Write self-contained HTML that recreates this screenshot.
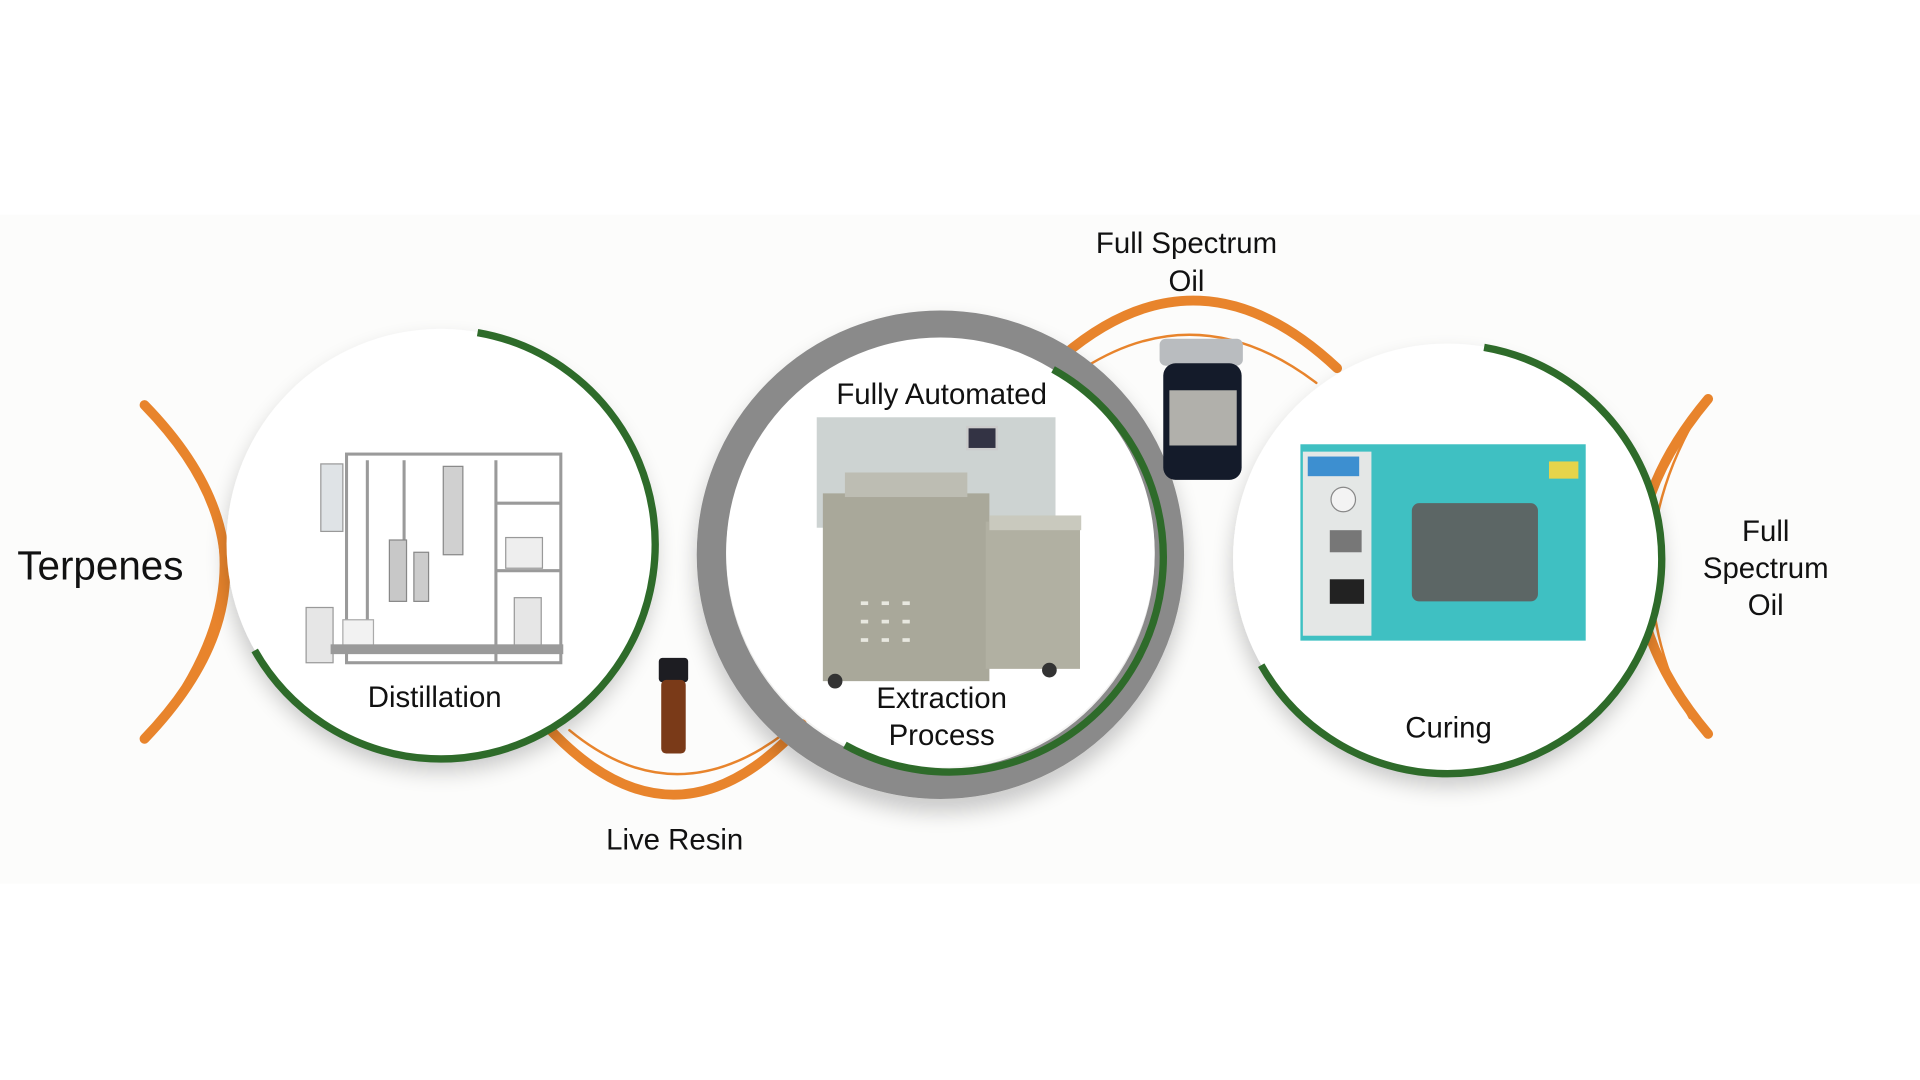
<!DOCTYPE html>
<html><head><meta charset="utf-8"><style>
html,body{margin:0;padding:0;background:#fff;width:1920px;height:1080px;overflow:hidden}
svg{display:block}
text{font-family:"Liberation Sans",Arial,sans-serif;fill:#111}
</style></head><body>
<svg width="1920" height="1080" viewBox="0 0 1568 880" preserveAspectRatio="none" xmlns="http://www.w3.org/2000/svg">
<defs>
<filter id="sh" x="-20%" y="-20%" width="140%" height="150%"><feGaussianBlur in="SourceAlpha" stdDeviation="9"/><feOffset dx="0" dy="10"/><feComponentTransfer><feFuncA type="linear" slope="0.22"/></feComponentTransfer><feMerge><feMergeNode/><feMergeNode in="SourceGraphic"/></feMerge></filter>
</defs>
<rect x="0" y="175" width="1568" height="545" fill="#fcfcfb"/>
<g fill="none" stroke="#e8842c" stroke-linecap="round">
<path d="M118,330 Q250,465 118,602" stroke-width="8"/>
<path d="M148,368 Q220,465 132,585" stroke-width="2"/>
<path d="M445,590 Q550,705 655,590" stroke-width="8"/>
<path d="M465,595 Q550,665 640,598" stroke-width="2"/>
<path d="M868,290 Q980,195 1092,300" stroke-width="8"/>
<path d="M885,300 Q980,240 1075,312" stroke-width="2"/>
<path d="M1395,325 Q1280,462 1395,598" stroke-width="8"/>
<path d="M1385,340 Q1315,462 1380,585" stroke-width="2"/>
</g>
<circle cx="360" cy="443" r="175" fill="#fff" filter="url(#sh)"/>
<path d="M390,271 A175,175 0 1 1 208,530" fill="none" stroke="#2e6b2a" stroke-width="6"/>
<circle cx="768" cy="452" r="187" fill="none" stroke="#8a8a8a" stroke-width="24" filter="url(#sh)"/>
<circle cx="768" cy="450" r="175" fill="#fff"/>
<path d="M860,301 A175,175 0 0 1 690,607" fill="none" stroke="#2e6b2a" stroke-width="6"/>
<circle cx="1182" cy="455" r="175" fill="#fff" filter="url(#sh)"/>
<path d="M1212,283 A175,175 0 1 1 1030,542" fill="none" stroke="#2e6b2a" stroke-width="6"/>
<g stroke="#9a9a9a" stroke-width="2.5" fill="none">
<rect x="283" y="370" width="175" height="170"/>
<line x1="405" y1="410" x2="458" y2="410"/><line x1="405" y1="465" x2="458" y2="465"/>
<line x1="330" y1="375" x2="330" y2="470"/><line x1="300" y1="375" x2="300" y2="520"/>
<line x1="405" y1="375" x2="405" y2="540"/>
</g>
<rect x="262" y="378" width="18" height="55" fill="#dfe3e6" stroke="#999"/>
<rect x="362" y="380" width="16" height="72" fill="#d0d0d0" stroke="#888"/>
<rect x="318" y="440" width="14" height="50" fill="#c8c8c8" stroke="#888"/>
<rect x="338" y="450" width="12" height="40" fill="#ccc" stroke="#888"/>
<rect x="413" y="438" width="30" height="25" fill="#eee" stroke="#999"/>
<rect x="420" y="487" width="22" height="45" fill="#e6e6e6" stroke="#999"/>
<rect x="250" y="495" width="22" height="45" fill="#e6e6e6" stroke="#999"/>
<rect x="280" y="505" width="25" height="25" fill="#f2f2f2" stroke="#aaa"/>
<rect x="270" y="525" width="190" height="8" fill="#9a9a9a"/>
<rect x="667" y="340" width="195" height="90" fill="#cdd3d2"/>
<rect x="790" y="348" width="24" height="18" fill="#334" stroke="#ccc" stroke-width="2"/>
<rect x="672" y="402" width="136" height="153" fill="#a9a89a"/>
<rect x="805" y="425" width="77" height="120" fill="#b1b0a2"/>
<rect x="808" y="420" width="75" height="12" fill="#c9c9be"/>
<rect x="690" y="385" width="100" height="20" fill="#bdbdb3"/>
<g fill="#e8e8e0"><rect x="703" y="490" width="6" height="3"/><rect x="720" y="490" width="6" height="3"/><rect x="737" y="490" width="6" height="3"/><rect x="703" y="505" width="6" height="3"/><rect x="720" y="505" width="6" height="3"/><rect x="737" y="505" width="6" height="3"/><rect x="703" y="520" width="6" height="3"/><rect x="720" y="520" width="6" height="3"/><rect x="737" y="520" width="6" height="3"/></g>
<circle cx="682" cy="555" r="6" fill="#333"/><circle cx="857" cy="546" r="6" fill="#333"/>
<rect x="947" y="276" width="68" height="22" rx="5" fill="#b9bcbf"/>
<rect x="950" y="296" width="64" height="95" rx="10" fill="#141b2a"/>
<rect x="955" y="318" width="55" height="45" fill="#d8d6cc" opacity="0.8"/>
<rect x="538" y="536" width="24" height="20" rx="3" fill="#1d1d22"/>
<rect x="540" y="554" width="20" height="60" rx="4" fill="#7a3a18"/>
<rect x="1062" y="362" width="233" height="160" fill="#3fc0c2"/>
<rect x="1064" y="368" width="56" height="150" fill="#e4e7e6"/>
<rect x="1068" y="372" width="42" height="16" fill="#3d8fd0"/>
<circle cx="1097" cy="407" r="10" fill="#f3f3f3" stroke="#888"/>
<rect x="1086" y="432" width="26" height="18" fill="#777"/>
<rect x="1086" y="472" width="28" height="20" fill="#222"/>
<rect x="1153" y="410" width="103" height="80" rx="6" fill="#5c6665"/>
<rect x="1265" y="376" width="24" height="14" fill="#e6d44a"/>
<text x="82" y="472" font-size="33" text-anchor="middle">Terpenes</text>
<text x="355" y="576" font-size="24" text-anchor="middle">Distillation</text>
<text x="551" y="692" font-size="24" text-anchor="middle">Live Resin</text>
<text x="769" y="329" font-size="24" text-anchor="middle">Fully Automated</text>
<text x="769" y="577" font-size="24" text-anchor="middle">Extraction</text>
<text x="769" y="607" font-size="24" text-anchor="middle">Process</text>
<text x="969" y="206" font-size="24" text-anchor="middle">Full Spectrum</text>
<text x="969" y="237" font-size="24" text-anchor="middle">Oil</text>
<text x="1183" y="601" font-size="24" text-anchor="middle">Curing</text>
<text x="1442" y="441" font-size="24" text-anchor="middle">Full</text>
<text x="1442" y="471" font-size="24" text-anchor="middle">Spectrum</text>
<text x="1442" y="501" font-size="24" text-anchor="middle">Oil</text>
</svg>
</body></html>
